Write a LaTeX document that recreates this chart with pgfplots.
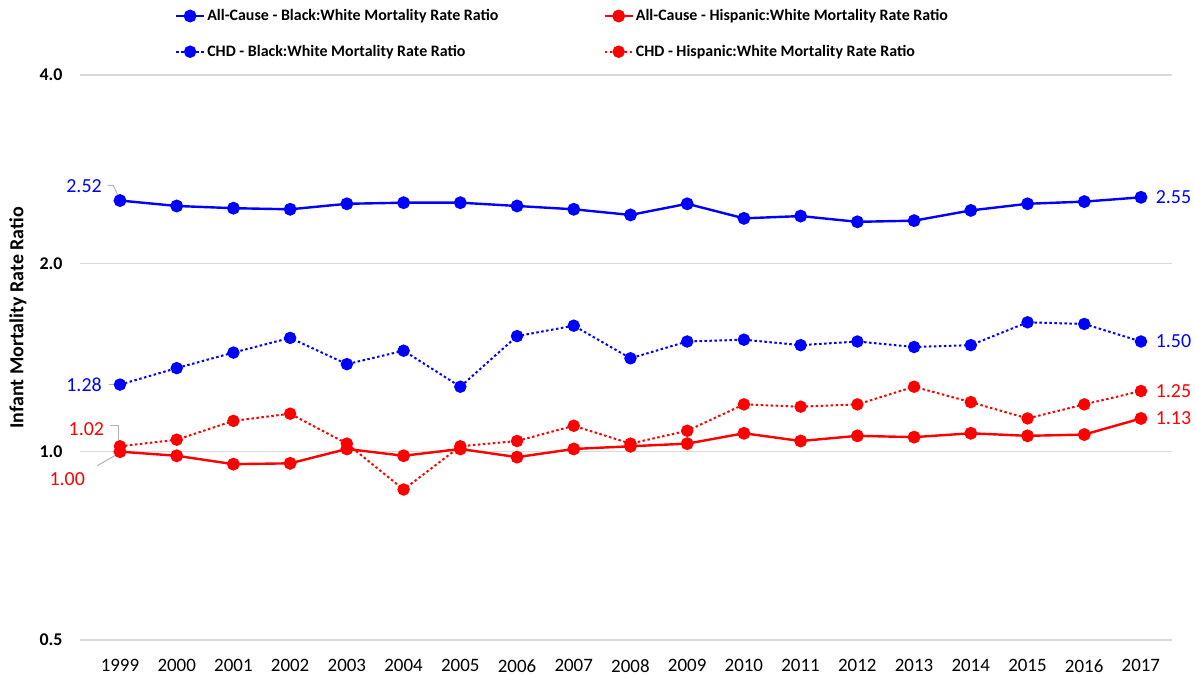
\documentclass[border=0pt]{standalone}
\usepackage{pgfplots}
\pgfplotsset{compat=1.18}
\usepackage{fontspec}
\setmainfont{Carlito}
\definecolor{cblue}{RGB}{0,0,255}
\definecolor{cred}{RGB}{255,0,0}
\definecolor{gridc}{RGB}{217,217,217}
\begin{document}
\begin{tikzpicture}[x=1bp,y=1bp]
\path[use as bounding box] (-80,-35) rectangle (1115,640);
\begin{axis}[
  at={(0,0)}, anchor=south west,
  scale only axis, width=1092bp, height=565bp,
  ymode=log, log basis y=2,
  ymin=0.5, ymax=4,
  xmin=1998.295, xmax=2017.547,
  ytick={0.5,1,2,4},
  yticklabels={\textbf{0.5},\textbf{1.0},\textbf{2.0},\textbf{4.0}},
  yticklabel style={font=\fontsize{18}{20}\selectfont, xshift=-14bp},
  xtick={1999,...,2017},
  xticklabels={1999,2000,2001,2002,2003,2004,2005,2006,2007,2008,2009,2010,2011,2012,2013,2014,2015,2016,2017},
  xticklabel style={font=\fontsize{19}{21}\selectfont, yshift=-16bp},
  axis line style={draw=none},
  major tick length=0pt,
  ymajorgrids, grid style={gridc, line width=1.2bp},
  clip=false,
  legend columns=2,
  legend cell align=left,
  legend style={draw=none, fill=none, at={(rel axis cs:0.084,1.123)}, anchor=north west,
    font=\bfseries\fontsize{16}{18}\selectfont,
    /tikz/every even column/.append style={column sep=103bp},
    row sep=19bp},
  legend image code/.code={
    \draw[#1, mark repeat=2, mark phase=2] plot coordinates {(0bp,0bp) (14bp,0bp) (28bp,0bp)};
  },
]
\addplot[cblue, line width=2.4bp, mark=*, mark size=5.2bp] coordinates {
(1999,2.52) (2000,2.47) (2001,2.45) (2002,2.44) (2003,2.49) (2004,2.50) (2005,2.50) (2006,2.47) (2007,2.44) (2008,2.39) (2009,2.49) (2010,2.36) (2011,2.38) (2012,2.33) (2013,2.34) (2014,2.43) (2015,2.49) (2016,2.51) (2017,2.55)};
\addlegendentry{All-Cause - Black:White Mortality Rate Ratio}
\addplot[cred, line width=2.4bp, mark=*, mark size=5.2bp] coordinates {
(1999,1.00) (2000,0.985) (2001,0.955) (2002,0.958) (2003,1.01) (2004,0.985) (2005,1.01) (2006,0.98) (2007,1.01) (2008,1.02) (2009,1.03) (2010,1.07) (2011,1.04) (2012,1.06) (2013,1.055) (2014,1.07) (2015,1.06) (2016,1.065) (2017,1.13)};
\addlegendentry{All-Cause - Hispanic:White Mortality Rate Ratio}
\addplot[cblue, line width=2bp, dash pattern=on 2.5bp off 2.5bp, mark=*, mark size=5.2bp, mark options={solid}] coordinates {
(1999,1.28) (2000,1.36) (2001,1.44) (2002,1.52) (2003,1.38) (2004,1.45) (2005,1.27) (2006,1.53) (2007,1.59) (2008,1.41) (2009,1.50) (2010,1.51) (2011,1.48) (2012,1.50) (2013,1.47) (2014,1.48) (2015,1.61) (2016,1.60) (2017,1.50)};
\addlegendentry{CHD - Black:White Mortality Rate Ratio}
\addplot[cred, line width=2bp, dash pattern=on 2.5bp off 2.5bp, mark=*, mark size=5.2bp, mark options={solid}] coordinates {
(1999,1.02) (2000,1.045) (2001,1.12) (2002,1.15) (2003,1.03) (2004,0.87) (2005,1.02) (2006,1.04) (2007,1.10) (2008,1.03) (2009,1.08) (2010,1.19) (2011,1.18) (2012,1.19) (2013,1.27) (2014,1.20) (2015,1.13) (2016,1.19) (2017,1.25)};
\addlegendentry{CHD - Hispanic:White Mortality Rate Ratio}
% axis title
\node[rotate=90, font=\bfseries\fontsize{20}{22}\selectfont] at ([xshift=-62bp]rel axis cs:0,0.57) {Infant Mortality Rate Ratio};
% data labels
\begin{scope}[every node/.style={font=\fontsize{20}{22}\selectfont}]
\node[cblue, anchor=east] at (axis cs:1998.74,2.66) {2.52};
\node[cblue, anchor=east] at (axis cs:1998.74,1.28) {1.28};
\node[cred, anchor=east] at (axis cs:1998.78,1.088) {1.02};
\node[cred] at (axis cs:1998.07,0.905) {1.00};
\node[cblue, anchor=west] at (axis cs:2017.2,2.55) {2.55};
\node[cblue, anchor=west] at (axis cs:2017.2,1.50) {1.50};
\node[cred, anchor=west] at (axis cs:2017.2,1.25) {1.25};
\node[cred, anchor=west] at (axis cs:2017.2,1.13) {1.13};
\end{scope}
\draw[gray!60, line width=1bp] (axis cs:1998.78,2.665) -- (axis cs:1998.88,2.665) -- (axis cs:1999,2.53);
\draw[gray!60, line width=1bp] (axis cs:1998.8,1.28) -- (axis cs:1998.92,1.28);
\draw[gray!60, line width=1bp] (axis cs:1998.82,1.1) -- (axis cs:1998.97,1.1) -- (axis cs:1998.97,1.035);
\draw[gray!60, line width=1bp] (axis cs:1998.6,0.95) -- (axis cs:1998.95,0.99);
\end{axis}
\end{tikzpicture}
\end{document}
